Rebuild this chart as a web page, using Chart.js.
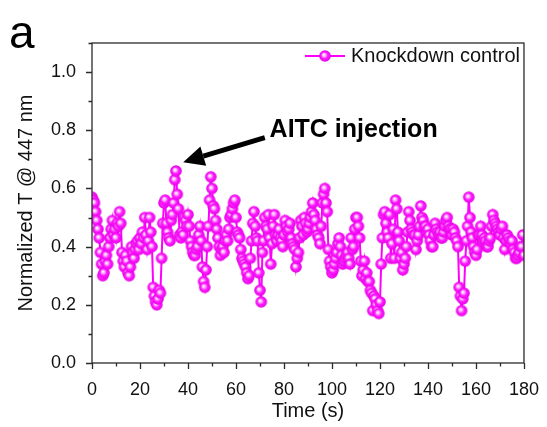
<!DOCTYPE html>
<html>
<head>
<meta charset="utf-8">
<script src="https://cdn.jsdelivr.net/npm/chart.js@4.4.1/dist/chart.umd.min.js"></script>
<style>
  html, body { margin: 0; padding: 0; background: #fff; }
  #wrap { width: 547px; height: 427px; position: relative; }
</style>
</head>
<body>
<div id="wrap"><canvas id="traceChart" width="547" height="427"></canvas></div>
<script>
// Knockdown control trace, one sample every 0.5 s (0..180 s)
const sampleStep = 0.5;
const signalValues = [
    0.57, 0.56, 0.55, 0.52, 0.49, 0.46, 0.43, 0.38, 0.34, 0.30, // 0
    0.31, 0.35, 0.37, 0.34, 0.40, 0.43, 0.46, 0.49, 0.44, 0.46, // 5
    0.43, 0.48, 0.47, 0.52, 0.48, 0.38, 0.35, 0.33, 0.37, 0.35, // 10
    0.31, 0.30, 0.33, 0.40, 0.38, 0.36, 0.39, 0.41, 0.42, 0.39, // 15
    0.43, 0.41, 0.45, 0.43, 0.50, 0.44, 0.39, 0.42, 0.50, 0.45, // 20
    0.40, 0.26, 0.23, 0.21, 0.20, 0.22, 0.25, 0.24, 0.36, 0.48, // 25
    0.55, 0.56, 0.48, 0.45, 0.43, 0.42, 0.49, 0.51, 0.55, 0.63, // 30
    0.66, 0.58, 0.53, 0.44, 0.43, 0.45, 0.44, 0.50, 0.49, 0.47, // 35
    0.51, 0.47, 0.42, 0.40, 0.38, 0.37, 0.37, 0.39, 0.40, 0.44, // 40
    0.47, 0.42, 0.33, 0.28, 0.26, 0.32, 0.40, 0.47, 0.56, 0.64, // 45
    0.60, 0.54, 0.53, 0.49, 0.46, 0.43, 0.40, 0.37, 0.39, 0.40, // 50
    0.38, 0.42, 0.44, 0.42, 0.46, 0.50, 0.51, 0.53, 0.55, 0.56, // 55
    0.50, 0.45, 0.44, 0.43, 0.39, 0.36, 0.35, 0.34, 0.33, 0.31, // 60
    0.29, 0.30, 0.36, 0.42, 0.48, 0.52, 0.47, 0.43, 0.42, 0.31, // 65
    0.25, 0.21, 0.38, 0.42, 0.50, 0.47, 0.46, 0.51, 0.43, 0.34, // 70
    0.41, 0.47, 0.51, 0.44, 0.42, 0.44, 0.46, 0.43, 0.42, 0.40, // 75
    0.44, 0.49, 0.47, 0.45, 0.46, 0.48, 0.43, 0.41, 0.40, 0.39, // 80
    0.33, 0.36, 0.38, 0.43, 0.49, 0.47, 0.44, 0.50, 0.48, 0.45, // 85
    0.46, 0.48, 0.50, 0.52, 0.55, 0.51, 0.49, 0.46, 0.44, 0.43, // 90
    0.41, 0.47, 0.55, 0.58, 0.60, 0.55, 0.52, 0.39, 0.35, 0.33, // 95
    0.31, 0.32, 0.34, 0.36, 0.38, 0.41, 0.43, 0.40, 0.37, 0.34, // 100
    0.35, 0.36, 0.37, 0.38, 0.36, 0.34, 0.43, 0.39, 0.40, 0.46, // 105
    0.50, 0.50, 0.47, 0.43, 0.35, 0.30, 0.32, 0.35, 0.29, 0.31, // 110
    0.28, 0.28, 0.25, 0.24, 0.18, 0.23, 0.22, 0.20, 0.18, 0.17, // 115
    0.21, 0.34, 0.43, 0.51, 0.52, 0.48, 0.45, 0.43, 0.51, 0.36, // 120
    0.41, 0.46, 0.36, 0.56, 0.53, 0.45, 0.42, 0.36, 0.38, 0.32, // 125
    0.34, 0.36, 0.40, 0.45, 0.52, 0.49, 0.46, 0.45, 0.44, 0.44, // 130
    0.39, 0.42, 0.44, 0.47, 0.54, 0.50, 0.49, 0.47, 0.47, 0.45, // 135
    0.46, 0.44, 0.42, 0.40, 0.40, 0.44, 0.48, 0.46, 0.45, 0.44, // 140
    0.45, 0.43, 0.43, 0.45, 0.47, 0.49, 0.50, 0.47, 0.46, 0.46, // 145
    0.44, 0.46, 0.45, 0.43, 0.42, 0.40, 0.26, 0.23, 0.18, 0.22, // 150
    0.24, 0.35, 0.42, 0.47, 0.57, 0.50, 0.45, 0.43, 0.40, 0.38, // 155
    0.37, 0.39, 0.44, 0.44, 0.47, 0.44, 0.42, 0.43, 0.42, 0.40, // 160
    0.40, 0.42, 0.43, 0.47, 0.51, 0.49, 0.48, 0.47, 0.46, 0.45, // 165
    0.44, 0.46, 0.47, 0.43, 0.39, 0.42, 0.44, 0.43, 0.42, 0.41, // 170
    0.42, 0.39, 0.38, 0.36, 0.36, 0.37, 0.38, 0.40, 0.40, 0.44, // 175
    0.37                                                        // 180
];
const seriesLabel = 'Knockdown control';

// axis setup
const xMin = 0, xMax = 180, xMinorStep = 10, xLabelStep = 20;
const yMin = 0, yMax = 1.1, yMinorStep = 0.1;
const yTickLabels = ['0.0', '0.2', '0.4', '0.6', '0.8', '1.0'];

// annotation: arrow from text to the injection point (data coords)
const noteText = 'AITC injection';
const arrowTip = { x: 38, y: 0.69 };
const arrowTail = { x: 72, y: 0.775 };
const noteAnchor = { x: 74, y: 0.80 };

const MAGENTA = '#ff00ff';
const AXIS = '#2b2b2b';
const FONT = '"Liberation Sans", Arial, sans-serif';

function makeSphere(r) {
    const c = document.createElement('canvas');
    const s = Math.ceil(r * 2 + 2);
    c.width = c.height = s;
    const g = c.getContext('2d');
    const cx = s / 2, cy = s / 2;
    const grad = g.createRadialGradient(cx - 1.3, cy - 1.3, 0.2, cx, cy, r);
    grad.addColorStop(0, '#ffffff');
    grad.addColorStop(0.28, '#ffa8ff');
    grad.addColorStop(0.55, '#ff1cff');
    grad.addColorStop(1, '#e600e6');
    g.fillStyle = grad;
    g.beginPath();
    g.arc(cx, cy, r, 0, Math.PI * 2);
    g.fill();
    return c;
}
const sphere = makeSphere(5.8);

const points = signalValues.map((v, i) => ({ x: i * sampleStep, y: v }));

// frame, minor/major ticks, legend, arrow and panel letter
const decorPlugin = {
    id: 'decor',
    afterDraw(chart) {
        const { ctx, chartArea: a, scales } = chart;
        const xs = scales.x, ys = scales.y;
        ctx.save();
        ctx.strokeStyle = AXIS;
        ctx.lineWidth = 1.3;
        ctx.strokeRect(a.left, a.top, a.right - a.left, a.bottom - a.top);

        // x ticks (outward)
        ctx.beginPath();
        for (let t = xMin; t <= xMax; t += xMinorStep) {
            const px = Math.round(xs.getPixelForValue(t)) + 0.5;
            const len = (t % xLabelStep === 0) ? 6 : 3.5;
            ctx.moveTo(px, a.bottom);
            ctx.lineTo(px, a.bottom + len);
        }
        // y ticks (outward)
        for (let k = 0; k * yMinorStep <= yMax + 1e-9; k++) {
            const py = Math.round(ys.getPixelForValue(k * yMinorStep)) + 0.5;
            const len = (k % 2 === 0) ? 6 : 3.5;
            ctx.moveTo(a.left, py);
            ctx.lineTo(a.left - len, py);
        }
        ctx.stroke();

        // legend (top right, inside plot)
        ctx.font = '20px ' + FONT;
        ctx.fillStyle = '#111';
        ctx.textBaseline = 'middle';
        const tw = ctx.measureText(seriesLabel).width;
        const tx = a.right - 4 - tw;
        const ly = a.top + 13;
        ctx.fillText(seriesLabel, tx, ly);
        ctx.strokeStyle = MAGENTA;
        ctx.lineWidth = 2;
        ctx.beginPath();
        ctx.moveTo(tx - 46, ly);
        ctx.lineTo(tx - 6, ly);
        ctx.stroke();
        ctx.drawImage(sphere, tx - 26 - sphere.width / 2, ly - sphere.height / 2);

        // arrow
        const x1 = xs.getPixelForValue(arrowTail.x), y1 = ys.getPixelForValue(arrowTail.y);
        const x2 = xs.getPixelForValue(arrowTip.x), y2 = ys.getPixelForValue(arrowTip.y);
        const ang = Math.atan2(y2 - y1, x2 - x1);
        const headLen = 21, headHalf = 10;
        const bx = x2 - headLen * Math.cos(ang), by = y2 - headLen * Math.sin(ang);
        ctx.strokeStyle = '#000';
        ctx.fillStyle = '#000';
        ctx.lineWidth = 5;
        ctx.beginPath();
        ctx.moveTo(x1, y1);
        ctx.lineTo(bx, by);
        ctx.stroke();
        ctx.beginPath();
        ctx.moveTo(x2, y2);
        ctx.lineTo(bx + headHalf * Math.sin(ang), by - headHalf * Math.cos(ang));
        ctx.lineTo(bx - headHalf * Math.sin(ang), by + headHalf * Math.cos(ang));
        ctx.closePath();
        ctx.fill();

        // annotation text
        ctx.font = 'bold 25px ' + FONT;
        ctx.textBaseline = 'middle';
        ctx.fillText(noteText, xs.getPixelForValue(noteAnchor.x), ys.getPixelForValue(noteAnchor.y));

        // panel letter
        ctx.font = '46px ' + FONT;
        ctx.textBaseline = 'alphabetic';
        ctx.fillText('a', 9, 48);
        ctx.restore();
    }
};

new Chart(document.getElementById('traceChart'), {
    type: 'line',
    data: {
        datasets: [{
            label: seriesLabel,
            data: points,
            borderColor: MAGENTA,
            borderWidth: 2,
            pointStyle: sphere,
            pointRadius: 6,
            tension: 0,
            clip: 0
        }]
    },
    options: {
        responsive: false,
        animation: false,
        events: [],
        layout: { padding: { top: 43, right: 23, left: 0, bottom: 0 } },
        plugins: { legend: { display: false }, tooltip: { enabled: false } },
        scales: {
            x: {
                type: 'linear',
                min: xMin,
                max: xMax,
                afterFit: (s) => { s.height = 64; },
                border: { display: false },
                grid: { display: false },
                ticks: {
                    stepSize: xMinorStep,
                    autoSkip: false,
                    maxRotation: 0,
                    padding: 8,
                    color: '#111',
                    font: { family: FONT, size: 18 },
                    callback: (v) => (v % xLabelStep === 0 ? String(v) : '')
                },
                title: {
                    display: true,
                    text: 'Time (s)',
                    color: '#111',
                    font: { family: FONT, size: 20 },
                    padding: { top: 4, bottom: 4 }
                }
            },
            y: {
                min: yMin,
                max: yMax,
                afterFit: (s) => { s.width = 92; },
                border: { display: false },
                grid: { display: false },
                ticks: {
                    stepSize: yMinorStep,
                    autoSkip: false,
                    padding: 8,
                    color: '#111',
                    font: { family: FONT, size: 18 },
                    callback: (v) => {
                        const k = Math.round(v / yMinorStep);
                        return (k % 2 === 0 && yTickLabels[k / 2]) ? yTickLabels[k / 2] : '';
                    }
                },
                title: {
                    display: true,
                    text: 'Normalized T @ 447 nm',
                    color: '#111',
                    font: { family: FONT, size: 20 },
                    padding: { top: 14, bottom: 14 }
                }
            }
        }
    },
    plugins: [decorPlugin]
});
</script>
</body>
</html>
